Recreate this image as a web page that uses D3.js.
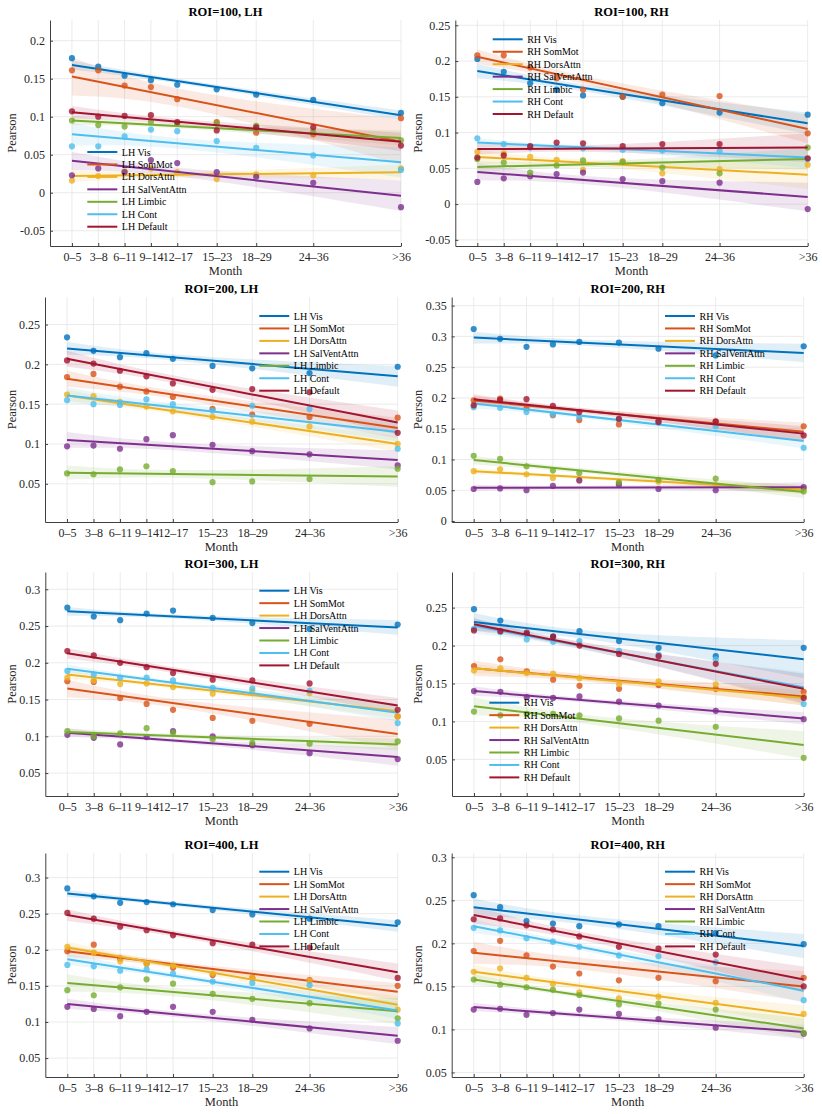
<!DOCTYPE html>
<html>
<head>
<meta charset="utf-8">
<script src="https://cdnjs.cloudflare.com/ajax/libs/d3/7.8.5/d3.min.js"></script>
<style>
body { margin: 0; background: #fff; }
svg { display: block; }
svg text { font-family: "Liberation Serif", "Times New Roman", "DejaVu Serif", serif; }
</style>
</head>
<body>
<div id="widget"></div>
<script>
/* Pearson vs age group, per Yeo-7 network, ROI=100..400, LH / RH */

var SERIF = '"Liberation Serif", "Times New Roman", "DejaVu Serif", serif';

// Categories
var months = ["0–5", "3–8", "6–11", "9–14", "12–17", "15–23", "18–29", "24–36", ">36"];
var monthMid = [2.5, 5.5, 8.5, 11.5, 14.5, 19, 23.5, 30, 40];
var networks = ["Vis", "SomMot", "DorsAttn", "SalVentAttn", "Limbic", "Cont", "Default"];
var colours = ["#0072BD", "#D95319", "#EDB120", "#7E2F8E", "#77AC30", "#4DBEEE", "#A2142F"];

// ROI=100, LH
var roi100LH = [
	[0.177, 0.166, 0.154, 0.148, 0.142, 0.136, 0.129, 0.122, 0.105],
	[0.161, 0.161, 0.141, 0.139, 0.123, 0.093, 0.079, 0.077, 0.098],
	[0.016, 0.022, 0.028, 0.032, 0.027, 0.018, 0.024, 0.023, 0.032],
	[0.023, 0.032, 0.027, 0.043, 0.039, 0.027, 0.021, 0.013, -0.019],
	[0.095, 0.089, 0.087, 0.093, 0.091, 0.091, 0.088, 0.080, 0.069],
	[0.061, 0.061, 0.074, 0.083, 0.081, 0.068, 0.059, 0.049, 0.030],
	[0.107, 0.100, 0.101, 0.102, 0.093, 0.082, 0.086, 0.086, 0.062]
];
var roi100LHFit = [[0.168, 0.102], [0.153, 0.067], [0.022, 0.027], [0.042, -0.004], [0.095, 0.072], [0.077, 0.040], [0.106, 0.067]];
var roi100LHBand = [[0.006, 0.003, 0.006], [0.025, 0.012, 0.03], [0.008, 0.004, 0.01], [0.012, 0.006, 0.02], [0.006, 0.003, 0.01], [0.015, 0.007, 0.02], [0.008, 0.004, 0.012]];

// ROI=100, RH
var roi100RH = [
	[0.203, 0.185, 0.169, 0.160, 0.152, 0.150, 0.141, 0.128, 0.125],
	[0.208, 0.208, 0.191, 0.176, 0.160, 0.150, 0.153, 0.151, 0.099],
	[0.073, 0.071, 0.066, 0.062, 0.048, 0.060, 0.043, 0.049, 0.055],
	[0.031, 0.036, 0.039, 0.042, 0.044, 0.035, 0.032, 0.030, -0.007],
	[0.063, 0.058, 0.044, 0.054, 0.061, 0.059, 0.051, 0.043, 0.079],
	[0.092, 0.084, 0.079, 0.080, 0.078, 0.076, 0.075, 0.074, 0.063],
	[0.065, 0.068, 0.081, 0.086, 0.085, 0.081, 0.084, 0.084, 0.064]
];
var roi100RHFit = [[0.186, 0.113], [0.206, 0.105], [0.066, 0.041], [0.045, 0.010], [0.052, 0.063], [0.086, 0.065], [0.077, 0.079]];
var roi100RHBand = [[0.01, 0.005, 0.015], [0.01, 0.006, 0.02], [0.01, 0.005, 0.02], [0.012, 0.006, 0.02], [0.008, 0.004, 0.015], [0.006, 0.003, 0.015], [0.008, 0.005, 0.02]];

// ROI=200, LH
var roi200LH = [
	[0.234, 0.217, 0.209, 0.214, 0.207, 0.198, 0.195, 0.189, 0.197],
	[0.184, 0.188, 0.172, 0.166, 0.159, 0.144, 0.137, 0.134, 0.133],
	[0.162, 0.160, 0.153, 0.147, 0.141, 0.134, 0.128, 0.122, 0.100],
	[0.097, 0.098, 0.094, 0.106, 0.111, 0.099, 0.091, 0.087, 0.073],
	[0.063, 0.062, 0.068, 0.072, 0.066, 0.052, 0.053, 0.056, 0.069],
	[0.155, 0.150, 0.149, 0.156, 0.150, 0.142, 0.148, 0.144, 0.094],
	[0.205, 0.201, 0.192, 0.185, 0.176, 0.168, 0.169, 0.165, 0.114]
];
var roi200LHFit = [[0.220, 0.185], [0.182, 0.120], [0.161, 0.100], [0.105, 0.080], [0.064, 0.059], [0.161, 0.115], [0.207, 0.127]];
var roi200LHBand = [[0.008, 0.004, 0.013], [0.01, 0.005, 0.013], [0.007, 0.004, 0.01], [0.01, 0.005, 0.012], [0.009, 0.005, 0.013], [0.01, 0.005, 0.012], [0.01, 0.005, 0.015]];

// ROI=200, RH
var roi200RH = [
	[0.312, 0.296, 0.283, 0.287, 0.291, 0.290, 0.280, 0.269, 0.284],
	[0.196, 0.199, 0.183, 0.172, 0.164, 0.157, 0.163, 0.161, 0.154],
	[0.081, 0.084, 0.076, 0.070, 0.066, 0.062, 0.064, 0.058, 0.053],
	[0.052, 0.053, 0.050, 0.057, 0.066, 0.059, 0.052, 0.050, 0.055],
	[0.106, 0.101, 0.089, 0.082, 0.078, 0.063, 0.067, 0.069, 0.048],
	[0.185, 0.184, 0.177, 0.173, 0.169, 0.165, 0.160, 0.154, 0.119],
	[0.188, 0.197, 0.198, 0.187, 0.177, 0.166, 0.161, 0.162, 0.139]
];
var roi200RHFit = [[0.298, 0.273], [0.196, 0.145], [0.081, 0.051], [0.054, 0.055], [0.099, 0.047], [0.191, 0.130], [0.198, 0.142]];
var roi200RHBand = [[0.01, 0.005, 0.015], [0.008, 0.004, 0.015], [0.005, 0.003, 0.008], [0.005, 0.003, 0.008], [0.007, 0.004, 0.01], [0.008, 0.004, 0.012], [0.008, 0.004, 0.012]];

// ROI=300, LH
var roi300LH = [
	[0.275, 0.263, 0.258, 0.267, 0.271, 0.261, 0.254, 0.246, 0.252],
	[0.175, 0.174, 0.152, 0.144, 0.136, 0.125, 0.121, 0.117, 0.127],
	[0.180, 0.176, 0.171, 0.172, 0.167, 0.158, 0.161, 0.159, 0.127],
	[0.102, 0.098, 0.089, 0.099, 0.107, 0.100, 0.088, 0.077, 0.069],
	[0.107, 0.100, 0.104, 0.111, 0.105, 0.096, 0.091, 0.090, 0.093],
	[0.189, 0.184, 0.180, 0.180, 0.176, 0.166, 0.165, 0.162, 0.118],
	[0.216, 0.210, 0.200, 0.194, 0.186, 0.177, 0.176, 0.172, 0.136]
];
var roi300LHFit = [[0.270, 0.248], [0.165, 0.103], [0.184, 0.134], [0.105, 0.072], [0.106, 0.089], [0.192, 0.132], [0.213, 0.142]];
var roi300LHBand = [[0.006, 0.003, 0.01], [0.012, 0.006, 0.02], [0.006, 0.003, 0.01], [0.006, 0.003, 0.012], [0.005, 0.003, 0.008], [0.006, 0.003, 0.012], [0.007, 0.004, 0.01]];

// ROI=300, RH
var roi300RH = [
	[0.248, 0.233, 0.215, 0.212, 0.219, 0.206, 0.197, 0.186, 0.197],
	[0.173, 0.182, 0.166, 0.155, 0.147, 0.143, 0.148, 0.143, 0.139],
	[0.167, 0.170, 0.164, 0.163, 0.157, 0.149, 0.153, 0.149, 0.133],
	[0.140, 0.139, 0.132, 0.131, 0.133, 0.126, 0.121, 0.114, 0.103],
	[0.113, 0.108, 0.110, 0.110, 0.108, 0.104, 0.101, 0.093, 0.052],
	[0.222, 0.218, 0.208, 0.205, 0.206, 0.193, 0.188, 0.182, 0.123],
	[0.220, 0.219, 0.217, 0.212, 0.200, 0.189, 0.186, 0.176, 0.131]
];
var roi300RHFit = [[0.231, 0.182], [0.170, 0.133], [0.170, 0.131], [0.140, 0.104], [0.120, 0.069], [0.226, 0.145], [0.228, 0.143]];
var roi300RHBand = [[0.012, 0.006, 0.025], [0.01, 0.005, 0.012], [0.006, 0.003, 0.01], [0.006, 0.003, 0.008], [0.012, 0.006, 0.018], [0.01, 0.005, 0.02], [0.008, 0.005, 0.02]];

// ROI=400, LH
var roi400LH = [
	[0.285, 0.274, 0.265, 0.266, 0.263, 0.255, 0.249, 0.243, 0.238],
	[0.198, 0.207, 0.188, 0.181, 0.175, 0.165, 0.161, 0.158, 0.150],
	[0.204, 0.196, 0.184, 0.180, 0.178, 0.167, 0.161, 0.157, 0.117],
	[0.121, 0.118, 0.108, 0.114, 0.121, 0.114, 0.103, 0.091, 0.074],
	[0.144, 0.137, 0.148, 0.159, 0.153, 0.139, 0.132, 0.126, 0.105],
	[0.179, 0.177, 0.171, 0.173, 0.167, 0.156, 0.154, 0.151, 0.098],
	[0.251, 0.243, 0.232, 0.227, 0.220, 0.209, 0.207, 0.203, 0.161]
];
var roi400LHFit = [[0.278, 0.233], [0.198, 0.142], [0.203, 0.124], [0.125, 0.081], [0.154, 0.115], [0.187, 0.116], [0.248, 0.169]];
var roi400LHBand = [[0.005, 0.003, 0.008], [0.008, 0.004, 0.012], [0.008, 0.004, 0.012], [0.007, 0.004, 0.012], [0.012, 0.006, 0.018], [0.008, 0.004, 0.012], [0.008, 0.004, 0.012]];

// ROI=400, RH
var roi400RH = [
	[0.256, 0.242, 0.226, 0.223, 0.220, 0.222, 0.220, 0.212, 0.199],
	[0.191, 0.203, 0.186, 0.173, 0.165, 0.157, 0.160, 0.156, 0.160],
	[0.167, 0.171, 0.160, 0.153, 0.143, 0.136, 0.138, 0.131, 0.118],
	[0.123, 0.124, 0.117, 0.119, 0.123, 0.118, 0.112, 0.102, 0.095],
	[0.158, 0.152, 0.149, 0.146, 0.140, 0.129, 0.130, 0.123, 0.096],
	[0.218, 0.215, 0.206, 0.202, 0.196, 0.186, 0.185, 0.178, 0.134],
	[0.228, 0.229, 0.221, 0.216, 0.208, 0.196, 0.194, 0.187, 0.150]
];
var roi400RHFit = [[0.242, 0.197], [0.189, 0.150], [0.167, 0.116], [0.126, 0.097], [0.158, 0.101], [0.220, 0.145], [0.233, 0.158]];
var roi400RHBand = [[0.01, 0.005, 0.014], [0.013, 0.007, 0.018], [0.008, 0.004, 0.012], [0.005, 0.003, 0.008], [0.006, 0.003, 0.012], [0.008, 0.004, 0.014], [0.01, 0.005, 0.015]];

// Y tick labels
var ticks100LH = [-0.05, 0, 0.05, 0.1, 0.15, 0.2];
var ticks100RH = [-0.05, 0, 0.05, 0.1, 0.15, 0.2, 0.25];
var ticks200LH = [0.05, 0.1, 0.15, 0.2, 0.25];
var ticks200RH = [0, 0.05, 0.1, 0.15, 0.2, 0.25, 0.3, 0.35];
var ticks300LH = [0.05, 0.1, 0.15, 0.2, 0.25, 0.3];
var ticks300RH = [0.05, 0.1, 0.15, 0.2, 0.25];
var ticks400 = [0.05, 0.1, 0.15, 0.2, 0.25, 0.3];

var panels = [
	{ title: "ROI=100, LH", hemi: "LH", pts: roi100LH, fit: roi100LHFit, band: roi100LHBand, ticks: ticks100LH },
	{ title: "ROI=100, RH", hemi: "RH", pts: roi100RH, fit: roi100RHFit, band: roi100RHBand, ticks: ticks100RH },
	{ title: "ROI=200, LH", hemi: "LH", pts: roi200LH, fit: roi200LHFit, band: roi200LHBand, ticks: ticks200LH },
	{ title: "ROI=200, RH", hemi: "RH", pts: roi200RH, fit: roi200RHFit, band: roi200RHBand, ticks: ticks200RH },
	{ title: "ROI=300, LH", hemi: "LH", pts: roi300LH, fit: roi300LHFit, band: roi300LHBand, ticks: ticks300LH },
	{ title: "ROI=300, RH", hemi: "RH", pts: roi300RH, fit: roi300RHFit, band: roi300RHBand, ticks: ticks300RH },
	{ title: "ROI=400, LH", hemi: "LH", pts: roi400LH, fit: roi400LHFit, band: roi400LHBand, ticks: ticks400 },
	{ title: "ROI=400, RH", hemi: "RH", pts: roi400RH, fit: roi400RHFit, band: roi400RHBand, ticks: ticks400 }
];

// Axes boxes, y limits and legend anchors (pixels)
var layout = [
	{ l: 50, r: 401, t: 20, b: 246, ylim: [-0.0701, 0.2272], lx: 87.3, ly: 152 },
	{ l: 455.3, r: 807.7, t: 20, b: 246, ylim: [-0.0586, 0.2574], lx: 492.7, ly: 39.3 },
	{ l: 45, r: 397.7, t: 297, b: 522, ylim: [0.002, 0.2846], lx: 259.3, ly: 316 },
	{ l: 451.7, r: 803.7, t: 297, b: 522, ylim: [-0.0016, 0.364], lx: 665, ly: 316 },
	{ l: 45.3, r: 397.7, t: 572, b: 796, ylim: [0.0188, 0.3235], lx: 259.3, ly: 590.7 },
	{ l: 452, r: 803.7, t: 572, b: 796, ylim: [0.0017, 0.297], lx: 489.3, ly: 702.7 },
	{ l: 45.3, r: 397.7, t: 853, b: 1077, ylim: [0.0238, 0.334], lx: 259.3, ly: 871.7 },
	{ l: 451.7, r: 803.7, t: 853, b: 1077, ylim: [0.0447, 0.305], lx: 665, ly: 871.7 }
];

var bandMid = 16; // month where the CI band is narrowest

var svg = d3.select("#widget")
	.append("svg")
	.attr("width", 822)
	.attr("height", 1114);

function fmt(v) {
	return String(+v.toFixed(2));
}

function drawPanel(p, lay) {
	var x = d3.scaleLinear().domain([0, 40]).range([lay.l, lay.r]);
	var y = d3.scaleLinear().domain(lay.ylim).range([lay.b, lay.t]);
	var g = svg.append("g");

	// grid
	g.selectAll(".vg").data(monthMid).enter().append("line")
		.attr("x1", function(d) { return x(d); })
		.attr("x2", function(d) { return x(d); })
		.attr("y1", lay.t).attr("y2", lay.b)
		.style("stroke", "#e6e6e6").style("stroke-width", 0.8);
	g.selectAll(".hg").data(p.ticks).enter().append("line")
		.attr("x1", lay.l).attr("x2", lay.r)
		.attr("y1", function(d) { return y(d); })
		.attr("y2", function(d) { return y(d); })
		.style("stroke", "#e6e6e6").style("stroke-width", 0.8);

	// axes
	var xAxis = d3.axisBottom(x).tickValues(monthMid)
		.tickFormat(function(d, i) { return months[i]; })
		.tickSizeInner(-3).tickSizeOuter(0).tickPadding(6);
	var yAxis = d3.axisLeft(y).tickValues(p.ticks).tickFormat(fmt)
		.tickSizeInner(-3).tickSizeOuter(0).tickPadding(5);
	var gx = g.append("g").attr("transform", "translate(0," + lay.b + ")").call(xAxis);
	var gy = g.append("g").attr("transform", "translate(" + lay.l + ",0)").call(yAxis);
	[gx, gy].forEach(function(a) {
		a.attr("font-family", SERIF).attr("font-size", 12);
		a.selectAll("path, line").style("stroke", "#404040").style("stroke-width", 1);
		a.selectAll("text").style("fill", "#262626").style("font-size", "12px")
			.style("font-family", SERIF);
	});

	// bands
	var area = d3.area()
		.x(function(d) { return x(d.m); })
		.y0(function(d) { return y(d.lo); })
		.y1(function(d) { return y(d.hi); })
		.curve(d3.curveNatural);
	p.fit.forEach(function(f, i) {
		var line = d3.scaleLinear().domain([monthMid[0], monthMid[8]]).range(f);
		var w = p.band[i];
		var ms = [monthMid[0], bandMid, monthMid[8]];
		var pts = ms.map(function(m, k) {
			return { m: m, lo: line(m) - w[k], hi: line(m) + w[k] };
		});
		g.append("path").datum(pts)
			.attr("d", area)
			.style("fill", colours[i]).style("fill-opacity", 0.12);
	});

	// points and fitted lines
	var lineGen = d3.line()
		.x(function(d) { return x(d[0]); })
		.y(function(d) { return y(d[1]); });
	p.pts.forEach(function(s, i) {
		g.selectAll(".pt" + i).data(s).enter().append("circle")
			.attr("cx", function(d, j) { return x(monthMid[j]); })
			.attr("cy", function(d) { return y(d); })
			.attr("r", 3.1)
			.style("fill", colours[i]).style("fill-opacity", 0.8);
		g.append("path")
			.datum([[monthMid[0], p.fit[i][0]], [monthMid[8], p.fit[i][1]]])
			.attr("d", lineGen)
			.style("fill", "none").style("stroke", colours[i]).style("stroke-width", 2);
	});

	// labels
	g.append("text")
		.attr("x", (lay.l + lay.r) / 2).attr("y", lay.t - 4)
		.attr("text-anchor", "middle")
		.style("font-family", SERIF)
		.style("font-size", "12.5px").style("font-weight", "bold").style("fill", "#000")
		.text(p.title);
	g.append("text")
		.attr("x", (lay.l + lay.r) / 2).attr("y", lay.b + 28.5)
		.attr("text-anchor", "middle")
		.style("font-family", SERIF)
		.style("font-size", "12.5px").style("fill", "#262626")
		.text("Month");
	var px = lay.l < 400 ? 15.5 : 421.5;
	g.append("text")
		.attr("transform", "translate(" + px + "," + (lay.t + lay.b) / 2 + ") rotate(-90)")
		.attr("text-anchor", "middle")
		.style("font-family", SERIF)
		.style("font-size", "12.5px").style("fill", "#262626")
		.text("Pearson");

	// legend
	networks.forEach(function(n, i) {
		var ly = lay.ly + i * 12.45;
		g.append("line")
			.attr("x1", lay.lx).attr("x2", lay.lx + 30)
			.attr("y1", ly).attr("y2", ly)
			.style("stroke", colours[i]).style("stroke-width", 2);
		g.append("text")
			.attr("x", lay.lx + 34.5).attr("y", ly)
			.attr("dy", "0.35em")
			.style("font-family", SERIF)
			.style("font-size", "10px").style("fill", "#000")
			.text(p.hemi + " " + n);
	});
}

panels.forEach(function(p, i) {
	drawPanel(p, layout[i]);
});
</script>
</body>
</html>
